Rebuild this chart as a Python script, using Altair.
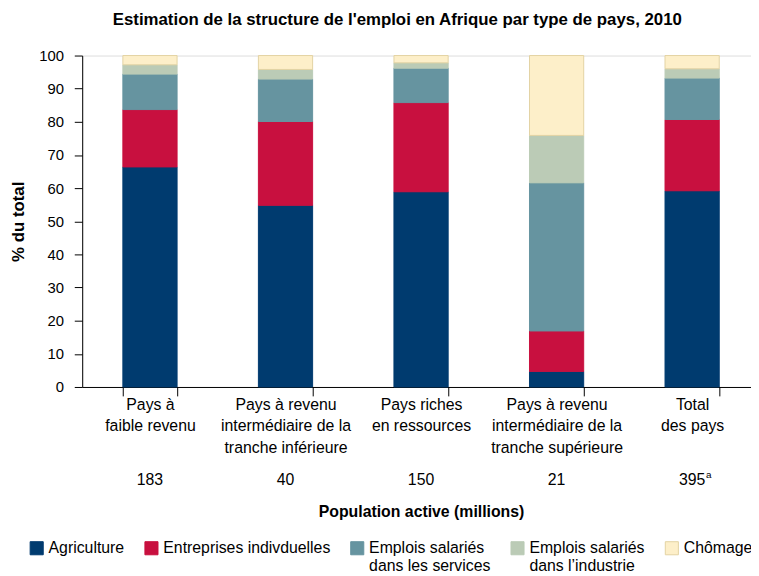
import altair as alt
import pandas as pd

# ---- data ----
categories = [
    "Pays à|faible revenu",
    "Pays à revenu|intermédiaire de la|tranche inférieure",
    "Pays riches|en ressources",
    "Pays à revenu|intermédiaire de la|tranche supérieure",
    "Total|des pays",
]
population = ["183", "40", "150", "21", "395"]
superscripts = ["", "", "", "", "a"]

series = [
    "Agriculture",
    "Entreprises indivduelles",
    "Emplois salariés|dans les services",
    "Emplois salariés|dans l’industrie",
    "Chômage",
]
agriculture = [66.4, 54.8, 58.9, 4.7, 59.2]
entreprises = [17.3, 25.3, 26.9, 12.2, 21.5]
services = [10.7, 12.8, 10.4, 44.7, 12.5]
industrie = [2.8, 2.9, 1.6, 14.3, 2.8]
chomage = [2.8, 4.2, 2.2, 24.1, 4.0]

fill_colors = ["#003B6F", "#C8103F", "#6694A0", "#BBCBB6", "#FDEFC9"]
stroke_colors = ["#003B6F", "#C8103F", "#6694A0", "#BBCBB6", "#E3D2A3"]

FONT = "Liberation Sans, Arial, sans-serif"

values_by_series = [agriculture, entreprises, services, industrie, chomage]
rows = []
for i, cat in enumerate(categories):
    for j, s in enumerate(series):
        rows.append({"pays": cat, "serie": s, "ordre": j, "valeur": values_by_series[j][i]})
df = pd.DataFrame(rows)

pop_df = pd.DataFrame({"pays": categories, "pop": population, "sup": superscripts})

xscale = alt.Scale(domain=categories, paddingInner=0.6, paddingOuter=0.3)

legend = alt.Legend(
    title=None,
    orient="none",
    legendX=-54,
    legendY=490,
    direction="horizontal",
    columns=5,
    symbolType="square",
    symbolSize=175,
    symbolStrokeWidth=1,
    labelFontSize=16,
    labelFont=FONT,
    labelColor="black",
    labelOffset=4,
    labelLimit=300,
    columnPadding=18,
    labelExpr="split(indexof(datum.label, '|') >= 0 ? datum.label : datum.label + '| ', '|')",
    labelBaseline="middle",
)

bars = alt.Chart(df).mark_bar(strokeWidth=1).encode(
    x=alt.X(
        "pays:N",
        sort=categories,
        scale=xscale,
        axis=alt.Axis(
            title="Population active (millions)",
            titleFontSize=16,
            titleFontWeight="bold",
            titleFont=FONT,
            titleColor="black",
            titleY=126,
            titleBaseline="middle",
            labelExpr="split(datum.label, '|')",
            labelAngle=0,
            labelBaseline="top",
            labelLineHeight=21.5,
            labelFontSize=16,
            labelFont=FONT,
            labelColor="black",
            labelPadding=1,
            labelOverlap=False,
            labelLimit=200,
            tickBand="extent",
            tickSize=9,
            tickColor="black",
            domainColor="black",
        ),
    ),
    y=alt.Y(
        "valeur:Q",
        stack="zero",
        scale=alt.Scale(domain=[0, 100], nice=False),
        axis=alt.Axis(
            title="% du total",
            titleFontSize=17,
            titleFontWeight="bold",
            titleFont=FONT,
            titleColor="black",
            titlePadding=11,
            values=list(range(0, 101, 10)),
            tickSize=8,
            tickColor="black",
            domainColor="black",
            labelFontSize=15,
            labelFont=FONT,
            labelColor="black",
            labelPadding=11,
            grid=False,
        ),
    ),
    color=alt.Color("serie:N", sort=series, scale=alt.Scale(domain=series, range=fill_colors), legend=legend),
    stroke=alt.Stroke("serie:N", sort=series, scale=alt.Scale(domain=series, range=stroke_colors), legend=legend),
    order=alt.Order("ordre:Q", sort="ascending"),
)

numbers = alt.Chart(pop_df).mark_text(fontSize=16, font=FONT, color="black", baseline="middle").encode(
    x=alt.X("pays:N", sort=categories),
    y=alt.value(429),
    text="pop:N",
)

sup = alt.Chart(pop_df).mark_text(fontSize=10, font=FONT, color="black", baseline="middle", align="left", dx=14, dy=-5).encode(
    x=alt.X("pays:N", sort=categories),
    y=alt.value(429),
    text="sup:N",
)

chart = (
    alt.layer(bars, numbers, sup)
    .properties(
        width=685,
        height=335,
        autosize=alt.AutoSizeParams(type="none"),
        padding={"left": 75, "top": 45, "right": -9, "bottom": 188},
        title=alt.TitleParams(
            "Estimation de la structure de l'emploi en Afrique par type de pays, 2010",
            fontSize=17,
            fontWeight="bold",
            font=FONT,
            color="black",
            anchor="middle",
            frame="group",
            dx=-24,
            offset=20,
        ),
    )
    .configure_view(stroke=None)
    .configure(font=FONT)
)

chart.save("out.html", embed_options={"renderer": "svg", "actions": False})
